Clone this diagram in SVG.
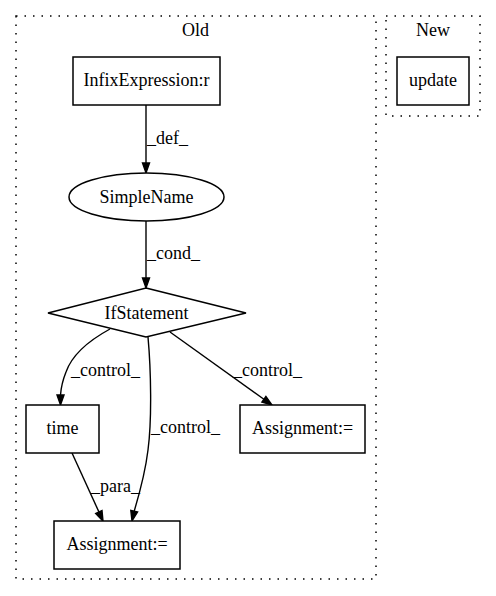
<svg xmlns="http://www.w3.org/2000/svg" width="496" height="596" viewBox="0 0 496 596">
<style>
text{font-family:"Liberation Serif","Times New Roman",serif;font-size:18px;fill:#000}
.c{text-anchor:middle}
.cl{fill:none;stroke:#000;stroke-width:1.5;stroke-dasharray:1.5,7}
.n{fill:#fff;stroke:#000;stroke-width:1.5}
.e{fill:none;stroke:#000;stroke-width:1.4}
.a{fill:#000;stroke:#000;stroke-width:1.4}
</style>
<rect width="496" height="596" fill="#fff"/>
<g id="cluster_old">
<rect class="cl" x="16" y="16" width="360" height="563"/>
<text class="c" x="195.5" y="36">Old</text>
</g>
<g id="cluster_new">
<rect class="cl" x="386" y="16" width="94" height="100"/>
<text class="c" x="433" y="36">New</text>
</g>
<g id="connectors">
<path class="e" d="M146,105 L146,163"/>
<polygon class="a" points="149.5,163 146,173 142.5,163"/>
<text x="147" y="144">_def_</text>
<path class="e" d="M146,221 L146,278"/>
<polygon class="a" points="149.5,278 146,288 142.5,278"/>
<text x="147" y="259">_cond_</text>
<path class="e" d="M110,329 C88,341 72,355 66,372 C62,382 61,388 60.5,395"/>
<polygon class="a" points="64,395 60.5,405 57,395"/>
<text x="71" y="376">_control_</text>
<path class="e" d="M148,337 C151,370 152,420 148,450 C145,475 139,495 134.2,511.2"/>
<polygon class="a" points="137.6,512 132,521 130.8,510.5"/>
<text x="151" y="433">_control_</text>
<path class="e" d="M170,332 L263.9,399.2"/>
<polygon class="a" points="261.9,402 272,405 265.9,396.4"/>
<text x="233" y="376">_control_</text>
<path class="e" d="M72,453 L98.9,511.9"/>
<polygon class="a" points="95.7,513.4 103,521 102,510.5"/>
<text x="91" y="492">_para_</text>
</g>
<g id="infix">
<rect class="n" x="73" y="57" width="147" height="48"/>
<text class="c" x="146.5" y="86">InfixExpression:r</text>
</g>
<g id="update">
<rect class="n" x="397" y="57" width="72" height="48"/>
<text class="c" x="433" y="86">update</text>
</g>
<g id="simplename">
<ellipse class="n" cx="146.5" cy="197" rx="77.5" ry="24"/>
<text class="c" x="146.5" y="203">SimpleName</text>
</g>
<g id="ifstatement">
<polygon class="n" points="146,288 246,313 146,337 48,313"/>
<text class="c" x="146.5" y="319">IfStatement</text>
</g>
<g id="time">
<rect class="n" x="26" y="405" width="73" height="48"/>
<text class="c" x="62.5" y="434">time</text>
</g>
<g id="assign_right">
<rect class="n" x="240" y="405" width="125" height="48"/>
<text class="c" x="302.5" y="434">Assignment:=</text>
</g>
<g id="assign_bottom">
<rect class="n" x="54" y="521" width="126" height="48"/>
<text class="c" x="117" y="550">Assignment:=</text>
</g>
</svg>
